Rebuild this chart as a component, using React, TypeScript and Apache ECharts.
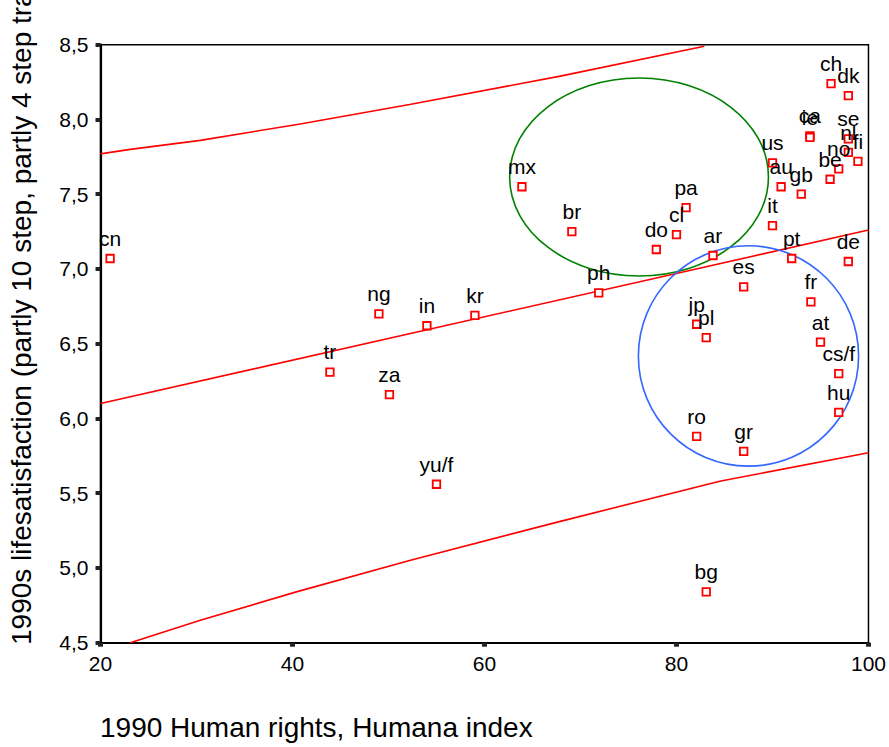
import React, { useEffect, useRef } from "react";
import * as echarts from "echarts";

// ---- data ----
const countries = ["cn", "tr", "ng", "in", "kr", "za", "yu/f", "mx", "br", "ph", "do", "cl", "pa", "ar", "es", "jp", "pl", "ro", "gr", "bg", "fr", "at", "cs/f", "hu", "pt", "de", "it", "us", "au", "gb", "ca", "ie", "ch", "dk", "se", "nl", "fi", "no", "be"];
const humanRights = [21.0, 43.9, 49.0, 54.0, 59.0, 50.1, 55.0, 63.9, 69.1, 71.9, 77.9, 80.0, 81.0, 83.8, 87.0, 82.1, 83.1, 82.1, 87.0, 83.1, 94.0, 95.0, 96.9, 96.9, 92.0, 97.9, 90.0, 90.0, 90.9, 93.0, 93.9, 93.9, 96.1, 97.9, 97.9, 97.9, 98.9, 96.9, 96.0];
const lifeSatisfaction = [7.07, 6.31, 6.70, 6.62, 6.69, 6.16, 5.56, 7.55, 7.25, 6.84, 7.13, 7.23, 7.41, 7.09, 6.88, 6.63, 6.54, 5.88, 5.78, 4.84, 6.78, 6.51, 6.30, 6.04, 7.07, 7.05, 7.29, 7.71, 7.55, 7.50, 7.89, 7.88, 8.24, 8.16, 7.87, 7.78, 7.72, 7.67, 7.60];

// regression line and prediction band
const fitX = [20, 100];
const fitY = [6.10, 7.26];
const upperX = [20, 23.1, 30.4, 40.8, 52.2, 67.9, 82.9];
const upperY = [7.77, 7.80, 7.86, 7.97, 8.10, 8.29, 8.49];
const lowerX = [23.1, 30.4, 40.4, 52.2, 67.8, 84.5, 100];
const lowerY = [4.50, 4.65, 4.84, 5.05, 5.31, 5.58, 5.77];

// annotation ellipses: [centerX, centerY, radiusX, radiusY] in data units
const greenEllipse = [76.1, 7.615, 13.48, 0.662];
const blueEllipse = [87.5, 6.418, 11.47, 0.737];

const xTicks = { min: 20, max: 100, interval: 20 };
const yTicks = { min: 4.5, max: 8.5, interval: 0.5 };

const xTitle = "1990 Human rights, Humana index";
const yTitle = "1990s lifesatisfaction (partly 10 step, partly 4 step tra";

const FONT = "'Liberation Sans', Arial, sans-serif";

export default function App() {
  const ref = useRef<HTMLDivElement>(null);
  useEffect(() => {
    document.body.style.margin = "0";
    const chart = echarts.init(ref.current!, undefined, { renderer: "svg" });
    const pts = countries.map((n, i) => ({ name: n, value: [humanRights[i], lifeSatisfaction[i]] }));
    const ellipseSeries = (vals: number[], color: string) => ({
      type: "custom",
      silent: true,
      z: 3,
      data: [vals],
      renderItem: (params: any, api: any) => {
        const c = api.coord([api.value(0), api.value(1)]);
        const s = api.size([api.value(2), api.value(3)]);
        return {
          type: "ellipse",
          shape: { cx: c[0], cy: c[1], rx: s[0], ry: s[1] },
          style: { fill: "none", stroke: color, lineWidth: 1.6 },
        };
      },
    });
    const lineSeries = (xs: number[], ys: number[]) => ({
      type: "line",
      data: xs.map((x, i) => [x, ys[i]]),
      showSymbol: false,
      silent: true,
      z: 2,
      lineStyle: { color: "#ff0000", width: 1.6 },
    });
    chart.setOption({
      animation: false,
      backgroundColor: "#ffffff",
      grid: {
        left: 100.5,
        right: 19.5,
        top: 44.7,
        bottom: 104.3,
        show: true,
        borderColor: "#000",
        borderWidth: 1.5,
        backgroundColor: "transparent",
      },
      xAxis: {
        type: "value",
        min: xTicks.min,
        max: xTicks.max,
        interval: xTicks.interval,
        splitLine: { show: false },
        axisLine: { show: true, onZero: false, lineStyle: { color: "#000", width: 2.2 } },
        axisTick: { show: true, length: 4, lineStyle: { color: "#222", width: 5 } },
        axisLabel: { color: "#000", fontSize: 21, fontFamily: FONT, margin: 10 },
      },
      yAxis: {
        type: "value",
        min: yTicks.min,
        max: yTicks.max,
        interval: yTicks.interval,
        splitLine: { show: false },
        axisLine: { show: true, onZero: false, lineStyle: { color: "#000", width: 2.2 } },
        axisTick: { show: true, length: 5, lineStyle: { color: "#222", width: 4 } },
        axisLabel: {
          color: "#000",
          fontSize: 21,
          fontFamily: FONT,
          margin: 12,
          formatter: (v: number) => v.toFixed(1).replace(".", ","),
        },
      },
      graphic: [
        {
          type: "text",
          x: 100,
          y: 727,
          style: { text: xTitle, fill: "#000", font: `28px ${FONT}`, align: "left", verticalAlign: "middle" },
        },
        {
          type: "text",
          x: 21,
          y: 645,
          rotation: Math.PI / 2,
          style: { text: yTitle, fill: "#000", font: `28px ${FONT}`, align: "left", verticalAlign: "middle" },
        },
      ],
      series: [
        lineSeries(fitX, fitY),
        lineSeries(upperX, upperY),
        lineSeries(lowerX, lowerY),
        ellipseSeries(greenEllipse, "#008000"),
        ellipseSeries(blueEllipse, "#3366ff"),
        {
          type: "scatter",
          data: pts,
          z: 5,
          symbol: "rect",
          symbolSize: 7.5,
          itemStyle: { color: "#ffffff", borderColor: "#ff0000", borderWidth: 1.8, opacity: 1 },
          label: {
            show: true,
            position: "top",
            distance: 5,
            formatter: (p: any) => p.name,
            color: "#000",
            fontSize: 21,
            fontFamily: FONT,
          },
          labelLayout: { hideOverlap: false },
        },
      ],
    });
    return () => chart.dispose();
  }, []);
  return <div ref={ref} style={{ width: 889, height: 747 }} />;
}
